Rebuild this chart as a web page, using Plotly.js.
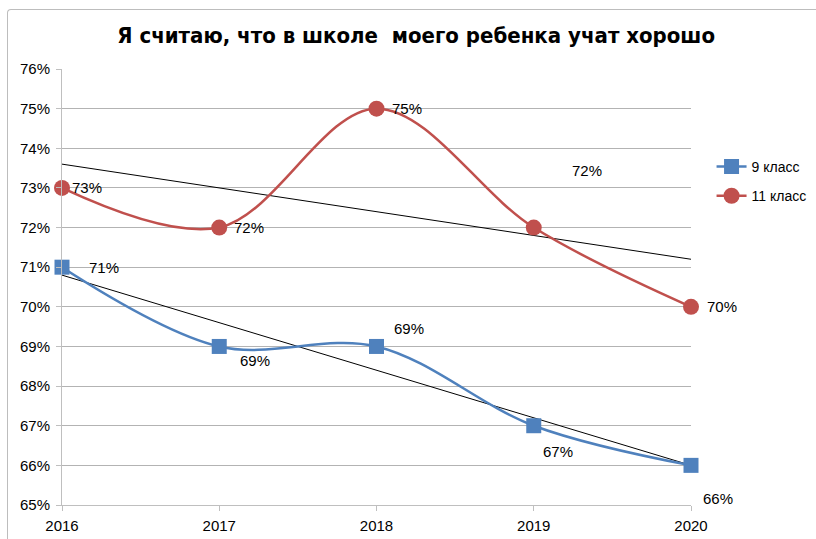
<!DOCTYPE html>
<html><head><meta charset="utf-8">
<script src="https://cdn.plot.ly/plotly-3.0.1.min.js"></script>
<style>html,body{margin:0;padding:0;background:#fff;overflow:hidden}#frame{position:absolute;left:7px;top:9px;width:900px;height:700px;border-top:1px solid #bdbdbd;border-left:1px solid #bdbdbd;border-top-left-radius:4px;pointer-events:none;z-index:5}</style>
</head><body>
<div id="frame"></div>
<div id="chart" style="width:816px;height:539px;"></div>
<script>
const years = [2016, 2017, 2018, 2019, 2020];
const grade9 = [71, 69, 69, 67, 66];
const grade11 = [73, 72, 75, 72, 70];
const seriesNames = ['9 класс', '11 класс'];
const titleText = 'Я считаю, что в школе  моего ребенка учат хорошо';

// label pixel offsets (style, not data)
const off9 = [[42,0],[36,-14],[32,18],[24,-26],[27,-33]];
const off11 = [[25,0],[30,0],[30,0],[53,57],[31,0]];

function trend(xs, ys){
  const n = xs.length;
  const mx = xs.reduce((a,b)=>a+b,0)/n, my = ys.reduce((a,b)=>a+b,0)/n;
  let sxy=0, sxx=0;
  for(let i=0;i<n;i++){sxy+=(xs[i]-mx)*(ys[i]-my); sxx+=(xs[i]-mx)**2;}
  const b = sxy/sxx, a = my - b*mx;
  return [xs[0], xs[n-1]].map(x=>({x, y:a+b*x}));
}
const t9 = trend(years, grade9), t11 = trend(years, grade11);

const font = '"Liberation Sans", Arial, sans-serif';
const traces = [
  {x:t9.map(p=>p.x), y:t9.map(p=>p.y), mode:'lines', line:{color:'#000', width:1}, showlegend:false, hoverinfo:'skip'},
  {x:t11.map(p=>p.x), y:t11.map(p=>p.y), mode:'lines', line:{color:'#000', width:1}, showlegend:false, hoverinfo:'skip'},
  {x:years, y:grade9, name:seriesNames[0], legendgroup:'g9', mode:'lines+markers', line:{color:'#4F81BD', width:2.5, shape:'spline', smoothing:1},
   marker:{symbol:'square', size:15, color:'#4F81BD'}, cliponaxis:false},
  {x:years, y:grade11, name:seriesNames[1], legendgroup:'g11', mode:'lines+markers', line:{color:'#C0504D', width:2.5, shape:'spline', smoothing:1},
   marker:{symbol:'circle', size:16, color:'#C0504D'}, cliponaxis:false}
];

const annotations = [];
years.forEach((yr,i)=>{
  annotations.push({x:yr, y:grade9[i], text:grade9[i]+'%', showarrow:false, xshift:off9[i][0], yshift:off9[i][1], font:{family:font, size:15, color:'#000'}});
  annotations.push({x:yr, y:grade11[i], text:grade11[i]+'%', showarrow:false, xshift:off11[i][0], yshift:off11[i][1], font:{family:font, size:15, color:'#000'}});
});

const layout = {
  width:816, height:539,
  margin:{l:62, r:125, t:69, b:34, autoexpand:false},
  paper_bgcolor:'#fff', plot_bgcolor:'#fff',
  title:{text:titleText, x:0.51, xanchor:'center', y:0.935, yanchor:'middle',
    font:{family:'"Liberation Sans Narrow", "DejaVu Sans Condensed", Arial, sans-serif', size:22, color:'#000', weight:'bold'}},
  xaxis:{range:[2016,2020], tickvals:years, ticktext:years.map(String), showgrid:false, zeroline:false,
    showline:true, linecolor:'#bfbfbf', linewidth:1, ticks:'outside', ticklen:5, tickcolor:'#bfbfbf', ticklabelstandoff:2,
    tickfont:{family:font, size:15, color:'#000'}, fixedrange:true},
  yaxis:{range:[65,76], dtick:1, tick0:65, ticksuffix:'%', showgrid:true, gridcolor:'#b3b3b3', gridwidth:1, zeroline:false,
    showline:true, linecolor:'#bfbfbf', linewidth:1, ticks:'outside', ticklen:5, tickcolor:'#bfbfbf', ticklabelstandoff:3,
    tickfont:{family:font, size:15, color:'#000'}, fixedrange:true},
  legend:{xref:'container', yref:'container', x:0.872, y:0.72, xanchor:'left', yanchor:'top', font:{family:font, size:14, color:'#000'},
    bgcolor:'rgba(0,0,0,0)', itemwidth:30, tracegroupgap:8},
  annotations:annotations,
  showlegend:true
};
Plotly.newPlot('chart', traces, layout, {staticPlot:true, displayModeBar:false});
</script>
</body></html>
